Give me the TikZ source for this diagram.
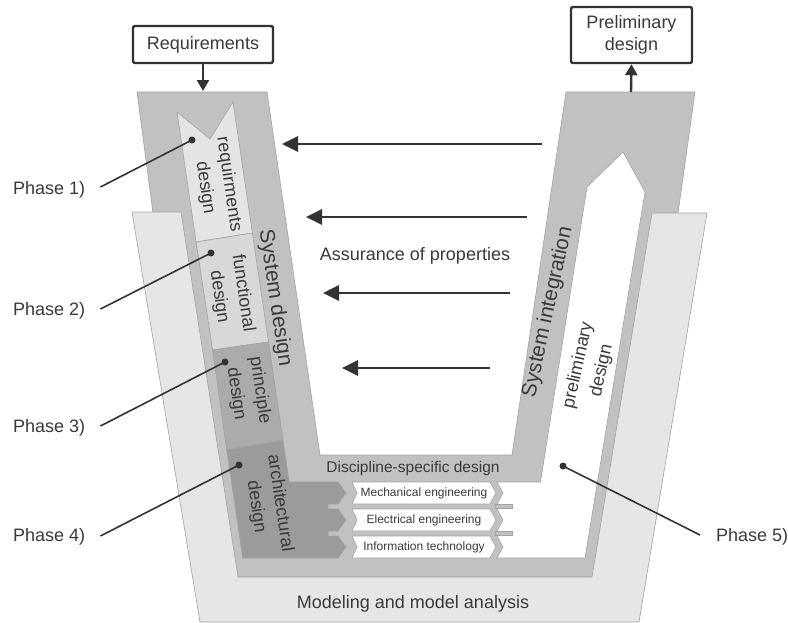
\documentclass[tikz,border=0pt]{standalone}
\usepackage{fontspec}
\setmainfont{Liberation Sans}
\usetikzlibrary{arrows.meta}
\definecolor{vgray}{HTML}{C1C1C3}
\definecolor{panel}{HTML}{E6E6E8}
\definecolor{reqc}{HTML}{E4E4E6}
\definecolor{func}{HTML}{D8D8DA}
\definecolor{princ}{HTML}{ABABAD}
\definecolor{archc}{HTML}{9B9B9D}
\definecolor{ink}{HTML}{3A3A3A}
\definecolor{edgec}{HTML}{A2A2A4}
\definecolor{arrc}{HTML}{333333}
\tikzset{
  lbl/.style={font=\fontsize{18}{22}\selectfont, text=ink, inner sep=0pt},
  big/.style={font=\fontsize{21}{25}\selectfont, text=ink, inner sep=0pt},
  phasetxt/.style={font=\fontsize{18}{24}\selectfont, text=ink, align=center, inner sep=0pt},
  rowtxt/.style={font=\fontsize{12}{14}\selectfont, text=ink, inner sep=0pt},
  region/.style={draw=edgec, line width=0.6pt},
  topbox/.style={draw=arrc, line width=2.4pt, rounded corners=2pt, align=center,
    font=\fontsize{18}{22}\selectfont, text=ink, inner sep=0pt},
  assure/.style={draw=arrc, line width=2.8pt, -{Triangle[length=16pt,width=15pt]}},
  feed/.style={draw=arrc, line width=2.4pt, -{Triangle[length=11pt,width=12pt]}},
  dotn/.style={circle, fill=arrc, inner sep=0pt, minimum size=7pt},
  phaseline/.style={draw=arrc, line width=1.6pt},
  phaselbl/.style={font=\fontsize{18}{22}\selectfont, text=ink, inner sep=0pt}
}
\begin{document}
\begin{tikzpicture}[x=1pt,y=-1pt]
\fill[white] (0,0) rectangle (788,622);
\path[use as bounding box] (0,0) rectangle (788,622);

% V shape
\filldraw[region, fill=vgray] (137,92) -- (267,92) -- (320,455) -- (512,455) -- (566,92)
  -- (695,92) -- (678,213) -- (592,577) -- (238,577) -- (153,213) -- cycle;

% modelling panel
\filldraw[region, fill=panel] (132,212) -- (181,212) -- (238,577) -- (592,577) -- (652,213)
  -- (707,213) -- (639,622) -- (200,622) -- cycle;

% phase boxes
\filldraw[region, fill=reqc] (177,112) -- (210,139) -- (233,102) -- (252.4,233) -- (196.1,242) -- cycle;
\filldraw[region, fill=func] (196.1,242) -- (252.4,233) -- (268.5,342) -- (212.6,350) -- cycle;
\filldraw[region, fill=princ] (212.6,350) -- (268.5,342) -- (283,440) -- (226.7,450) -- cycle;
\filldraw[region, fill=archc] (226.7,450) -- (283,440) -- (289.2,482) -- (338,482) -- (346,493)
  -- (338,504) -- (328,504) -- (328,509) -- (338,509) -- (346,520) -- (338,531)
  -- (328,531) -- (328,536) -- (338,536) -- (346,547) -- (338,558) -- (242.8,558) -- cycle;

% white interior of right arm
\filldraw[region, fill=white] (497,482) -- (540.5,482) -- (587,187) -- (623,152) -- (645,192)
  -- (585,558) -- (497,558) -- (503,547) -- (497,536) -- (497,531) -- (503,520)
  -- (497,509) -- (497,504) -- (503,493) -- cycle;
\filldraw[region, fill=vgray] (495,504.5) rectangle (512,508.5);
\filldraw[region, fill=vgray] (495,531.5) rectangle (512,535.5);

% discipline rows
\filldraw[region, fill=white] (352,482) -- (490,482) -- (496,493) -- (490,504) -- (352,504) -- (357,493) -- cycle;
\filldraw[region, fill=white] (352,509) -- (490,509) -- (496,520) -- (490,531) -- (352,531) -- (357,520) -- cycle;
\filldraw[region, fill=white] (352,536) -- (490,536) -- (496,547) -- (490,558) -- (352,558) -- (357,547) -- cycle;
\node[rowtxt] (mech) at (424,493) {Mechanical engineering};
\node[rowtxt] (elec) at (424,520) {Electrical engineering};
\node[rowtxt] (info) at (424,547) {Information technology};

% texts
\node[font=\fontsize{15.5}{18}\selectfont, text=ink, inner sep=0pt] (disc) at (413,468) {Discipline-specific design};
\node[lbl] (model) at (413,604) {Modeling and model analysis};
\node[lbl] (assur) at (415,256) {Assurance of properties};
\node[big, rotate=-81.6] (sysd) at (275,298) {System design};
\node[big, rotate=77.7] (sysi) at (548,312) {System integration};
\node[phasetxt, rotate=77.5] (prelim) at (590,368) {preliminary\\design};
\node[phasetxt, rotate=-81.6] (reqd) at (217,186) {requirments\\design};
\node[phasetxt, rotate=-81.6] (fund) at (231,295) {functional\\design};
\node[phasetxt, rotate=-81.6] (prid) at (248,392) {principle\\design};
\node[phasetxt, rotate=-81.6] (arcd) at (268,505) {architectural\\design};

% top boxes
\node[topbox, minimum width=140pt, minimum height=37pt] (req) at (203,44.5) {Requirements};
\node[topbox, minimum width=121pt, minimum height=56pt] (prel) at (631.5,35) {Preliminary\\design};
\coordinate (vin) at (203,91);
\coordinate (vout) at (631,92);
\draw[feed] (req.south) -- (vin);
\draw[feed] (vout) -- (prel.south);

% assurance arrows
\coordinate (a1s) at (542,144); \coordinate (a1e) at (282,144);
\coordinate (a2s) at (527,217); \coordinate (a2e) at (306,217);
\coordinate (a3s) at (510,293); \coordinate (a3e) at (323,293);
\coordinate (a4s) at (490,368); \coordinate (a4e) at (342,368);
\draw[assure] (a1s) -- (a1e);
\draw[assure] (a2s) -- (a2e);
\draw[assure] (a3s) -- (a3e);
\draw[assure] (a4s) -- (a4e);

% phase labels
\node[phaselbl, anchor=west] (p1) at (13,190) {Phase 1)};
\node[phaselbl, anchor=west] (p2) at (13,311) {Phase 2)};
\node[phaselbl, anchor=west] (p3) at (13,428) {Phase 3)};
\node[phaselbl, anchor=west] (p4) at (13,537) {Phase 4)};
\node[phaselbl, anchor=west] (p5) at (716,537) {Phase 5)};
\node[dotn] (d1) at (192,140) {};
\node[dotn] (d2) at (211,253) {};
\node[dotn] (d3) at (225,362) {};
\node[dotn] (d4) at (239,465) {};
\node[dotn] (d5) at (563,466) {};
\draw[phaseline] ([xshift=15pt,yshift=3pt]p1.east) -- (d1.center);
\draw[phaseline] ([xshift=15pt,yshift=2pt]p2.east) -- (d2.center);
\draw[phaseline] ([xshift=15pt,yshift=2pt]p3.east) -- (d3.center);
\draw[phaseline] ([xshift=15pt,yshift=1pt]p4.east) -- (d4.center);
\draw[phaseline] ([xshift=-16pt,yshift=2pt]p5.west) -- (d5.center);
\end{tikzpicture}
\end{document}
